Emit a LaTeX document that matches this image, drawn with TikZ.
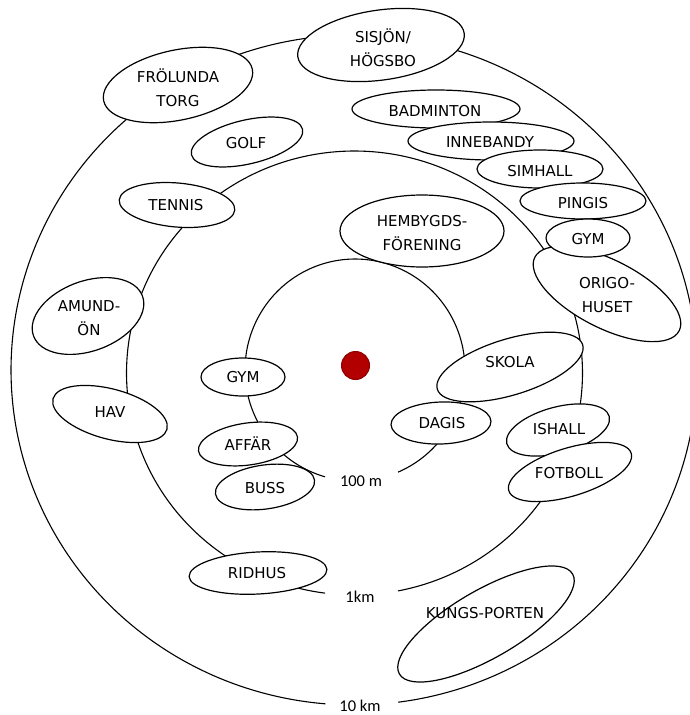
\documentclass[tikz,border=0pt]{standalone}
\usepackage{fontspec}
\setmainfont{DejaVu Sans}
\newfontfamily\distfont{Carlito}
\usetikzlibrary{shapes.geometric}
\definecolor{dotred}{RGB}{178,0,0}
\definecolor{dotdark}{RGB}{140,0,0}
\newcommand\placeoval[5]{\node[oval, minimum width=#3, minimum height=#4, rotate=#5] (#1) at #2 {};}
\begin{document}
\begin{tikzpicture}[x=1pt,y=-1pt,
  ring/.style={line width=1.1pt, black},
  oval/.style={ellipse, draw, line width=1.2pt, fill=white, inner sep=0pt},
  lab/.style={font=\fontsize{15}{24}\selectfont, align=center, inner sep=0pt},
  dist/.style={font=\distfont\fontsize{16.5}{18}\selectfont, inner sep=0pt}]
\useasboundingbox[fill=white] (0,0) rectangle (690,715);

% distance rings (open at the bottom)
\draw[ring] plot[domain=105.8:427, samples=150, smooth] ({355+110*cos(\x)},{370+111*sin(\x)});
\draw[ring] plot[domain=97.4:439, samples=200, smooth] ({354.5+228*cos(\x)},{373+222*sin(\x)});
\draw[ring] plot[domain=94.8:442.6, samples=250, smooth] ({354+343*cos(\x)},{370+335*sin(\x)});

% outer ring places
\placeoval{sisjon}{(381,45)}{168pt}{70pt}{8}
\node[lab] (sisjonT) at (383,48) {SISJÖN/\\HÖGSBO};
\placeoval{frolunda}{(178,85)}{152pt}{70pt}{12}
\node[lab] (frolundaT) at (178,88) {FRÖLUNDA\\TORG};
\placeoval{golf}{(247,142)}{114pt}{44pt}{13}
\node[lab] (golfT) at (246,143) {GOLF};
\placeoval{badminton}{(436,109)}{168pt}{38pt}{0}
\node[lab] (badmintonT) at (435,111) {BADMINTON};
\placeoval{innebandy}{(491,141)}{166pt}{38pt}{0}
\node[lab] (innebandyT) at (490,142) {INNEBANDY};
\placeoval{simhall}{(540,169)}{126pt}{38pt}{0}
\node[lab] (simhallT) at (540,171) {SIMHALL};
\placeoval{pingis}{(583,201)}{126pt}{36pt}{0}
\node[lab] (pingisT) at (583,203) {PINGIS};
\placeoval{origo}{(607,294)}{162pt}{68pt}{-27}
\node[lab] (origoT) at (607,295) {ORIGO-\\HUSET};
\placeoval{gymR}{(588,238)}{84pt}{38pt}{0}
\node[lab] (gymRT) at (588,239) {GYM};
\placeoval{kungs}{(486,624)}{200pt}{68pt}{30}
\node[lab] (kungsT) at (485,613) {KUNGS-PORTEN};

% middle ring places
\placeoval{tennis}{(177,205)}{116pt}{44pt}{-5}
\node[lab] (tennisT) at (176,205) {TENNIS};
\placeoval{amund}{(88,316)}{116pt}{70pt}{20}
\node[lab] (amundT) at (89,318) {AMUND-\\ÖN};
\placeoval{hav}{(110,414)}{118pt}{50pt}{-15}
\node[lab] (havT) at (110,412) {HAV};
\placeoval{ridhus}{(258,573)}{138pt}{42pt}{3}
\node[lab] (ridhusT) at (257,573) {RIDHUS};
\placeoval{hembygd}{(422,231)}{164pt}{72pt}{0}
\node[lab] (hembygdT) at (422,233) {HEMBYGDS-\\FÖRENING};
\placeoval{skola}{(510,367)}{152pt}{56pt}{17}
\node[lab] (skolaT) at (510,362) {SKOLA};
\placeoval{ishall}{(558,430)}{106pt}{46pt}{15}
\node[lab] (ishallT) at (559,429) {ISHALL};
\placeoval{fotboll}{(570,472)}{128pt}{48pt}{17}
\node[lab] (fotbollT) at (569,473) {FOTBOLL};

% inner ring places
\placeoval{gymL}{(243,377)}{84pt}{38pt}{0}
\node[lab] (gymLT) at (243,377) {GYM};
\placeoval{affar}{(248,444)}{100pt}{42pt}{8}
\node[lab] (affarT) at (248,444) {AFFÄR};
\placeoval{buss}{(265,487)}{100pt}{44pt}{8}
\node[lab] (bussT) at (265,488) {BUSS};
\placeoval{dagis}{(441,423)}{100pt}{42pt}{2}
\node[lab] (dagisT) at (442,423) {DAGIS};

% centre
\node[circle, fill=dotred, draw=dotdark, line width=1pt, minimum size=28pt, inner sep=0pt] (home) at (355.5,365.5) {};

% distance labels
\node[dist] (d100) at (361,481) {100 m};
\node[dist] (d1k) at (360,597) {1km};
\node[dist] (d10k) at (360,706) {10 km};
\end{tikzpicture}
\end{document}
